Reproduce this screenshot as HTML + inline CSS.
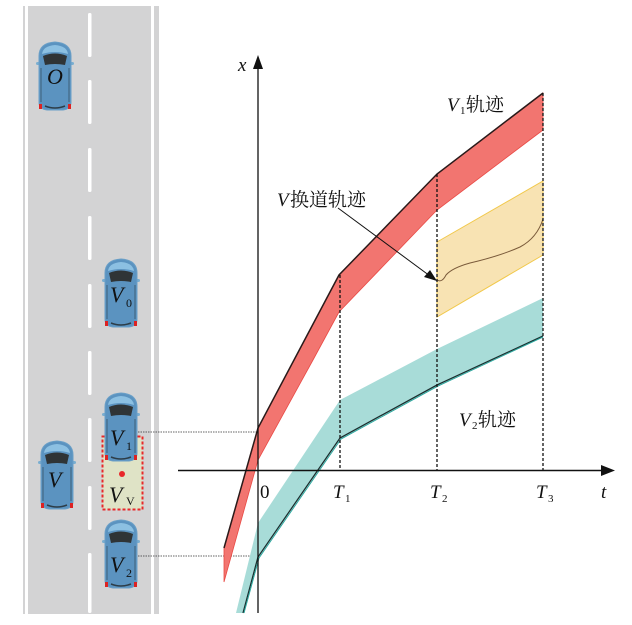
<!DOCTYPE html>
<html><head><meta charset="utf-8"><style>
html,body{margin:0;padding:0;background:#fff;}
svg{display:block;}
text{font-family:"Liberation Serif","Noto Serif CJK SC",serif;}
.i{font-style:italic;}
</style></head><body>
<svg width="632" height="625" viewBox="0 0 632 625" xmlns="http://www.w3.org/2000/svg">
<defs>
<g id="car">
 <rect x="-19" y="-14" width="38" height="3" rx="1.5" fill="#7aaed0"/>
 <path d="M-16,-20 Q-16,-33 0,-34 Q16,-33 16,-20 L16,26 Q16,33 8,34 L-8,34 Q-16,33 -16,26 Z" fill="#5b93c0" stroke="#6a9fc7" stroke-width="1"/>
 <path d="M-13,-22 Q-12,-30 0,-31 Q12,-30 13,-22 Q0,-26 -13,-22Z" fill="#8cc0e2"/>
 <path d="M-12,-20 Q0,-25 12,-20 L10,-11 Q0,-13 -10,-11 Z" fill="#2f3436"/>
 <path d="M-14,-8 L-14,26 M14,-8 L14,26" stroke="#3d5f78" stroke-width="1"/>
 <path d="M-10,30 Q0,34 10,30" stroke="#2d3d48" stroke-width="1.5" fill="none"/>
 <rect x="-16" y="28" width="3" height="5" fill="#d22"/>
 <rect x="13" y="28" width="3" height="5" fill="#d22"/>
</g>
</defs>
<rect x="23" y="6" width="136" height="608" fill="#d3d3d4"/>
<rect x="25" y="6" width="3" height="608" fill="#fff"/>
<rect x="151" y="6" width="3" height="608" fill="#fff"/>
<g fill="#fff">
<rect x="88" y="13" width="3.5" height="44" rx="1.5"/>
<rect x="88" y="80" width="3.5" height="44" rx="1.5"/>
<rect x="88" y="148" width="3.5" height="44" rx="1.5"/>
<rect x="88" y="216" width="3.5" height="44" rx="1.5"/>
<rect x="88" y="284" width="3.5" height="44" rx="1.5"/>
<rect x="88" y="351" width="3.5" height="44" rx="1.5"/>
<rect x="88" y="418" width="3.5" height="44" rx="1.5"/>
<rect x="88" y="486" width="3.5" height="44" rx="1.5"/>
<rect x="88" y="553" width="3.5" height="60" rx="1.5"/>
</g>
<rect x="102.5" y="436.5" width="40" height="73" fill="#dfe3c6" stroke="#e8282a" stroke-width="2" stroke-dasharray="3,2"/>
<circle cx="122" cy="474" r="3" fill="#e8282a"/>
<use href="#car" x="55" y="76"/>
<use href="#car" x="121" y="293"/>
<use href="#car" x="121" y="427"/>
<use href="#car" x="57" y="475"/>
<use href="#car" x="121" y="554"/>
<g font-size="22" fill="#111">
<text x="47" y="84" class="i">O</text>
<text x="110" y="302" class="i">V</text><text x="126" y="307" font-size="12">0</text>
<text x="110" y="445" class="i">V</text><text x="126" y="450" font-size="12">1</text>
<text x="48" y="487" class="i">V</text>
<text x="109" y="502" class="i">V</text><text x="126" y="505" font-size="12">V</text>
<text x="110" y="572" class="i">V</text><text x="126" y="577" font-size="12">2</text>
</g>
<line x1="138" y1="432" x2="258" y2="432" stroke="#333" stroke-width="0.8" stroke-dasharray="1.5,1"/>
<line x1="138" y1="556" x2="258" y2="556" stroke="#333" stroke-width="0.8" stroke-dasharray="1.5,1"/>
<polygon points="224,548 258,428 339,275 437,174 543,93 543,130 437,210 339,312 313,360 258,460 224,582" fill="#f27570" stroke="#e94a45" stroke-width="0.8"/>
<polyline points="224,548 258,428 339,275 437,174 543,93" fill="none" stroke="#2a1a1a" stroke-width="1.5"/>
<polygon points="236,613 258,523 340,400 437,349 543,298 543,336 437,385 340,438 258,557 243,613" fill="#a8dcd8"/>
<polyline points="243,613 258,557 340,438 437,385 543,336" fill="none" stroke="#1a3030" stroke-width="1.3"/>
<polyline points="244,613 259,558 341,439 438,386 543,337" fill="none" stroke="#2aa89f" stroke-width="1"/>
<polygon points="437,242 543,181 543,255 437,317" fill="#f8e3b3" stroke="#f1c84a" stroke-width="1"/>
<path d="M437,280 Q442,283 446,275 Q452,268 470,263 Q500,256 520,247 Q537,238 543,219" fill="none" stroke="#7a5a3a" stroke-width="1"/>
<g stroke="#111" stroke-width="1.3" stroke-dasharray="3,2">
<line x1="340" y1="275" x2="340" y2="470"/>
<line x1="437" y1="174" x2="437" y2="470"/>
<line x1="543" y1="93" x2="543" y2="470"/>
</g>
<line x1="178" y1="470.5" x2="605" y2="470.5" stroke="#111" stroke-width="1.5"/>
<polygon points="615,470.5 601,465 601,476" fill="#111"/>
<line x1="258" y1="613" x2="258" y2="66" stroke="#111" stroke-width="1.3"/>
<polygon points="258,55 253,69 263,69" fill="#111"/>
<line x1="338" y1="208" x2="430" y2="276" stroke="#111" stroke-width="1"/>
<polygon points="437,281 424,277 430,270" fill="#111"/>
<g font-size="19" fill="#111">
<text x="238" y="71" class="i">x</text>
<text x="601" y="498" class="i">t</text>
<text x="260" y="498">0</text>
<text x="333" y="498" class="i">T</text><text x="345" y="502" font-size="11">1</text>
<text x="430" y="498" class="i">T</text><text x="442" y="502" font-size="11">2</text>
<text x="536" y="498" class="i">T</text><text x="548" y="502" font-size="11">3</text>
<text x="447" y="111" class="i">V</text><text x="460" y="114" font-size="11">1</text><text x="466" y="111">轨迹</text>
<text x="277" y="206" class="i">V</text><text x="290" y="206">换道轨迹</text>
<text x="459" y="426" class="i">V</text><text x="472" y="429" font-size="11">2</text><text x="478" y="426">轨迹</text>
</g>
</svg>
</body></html>
